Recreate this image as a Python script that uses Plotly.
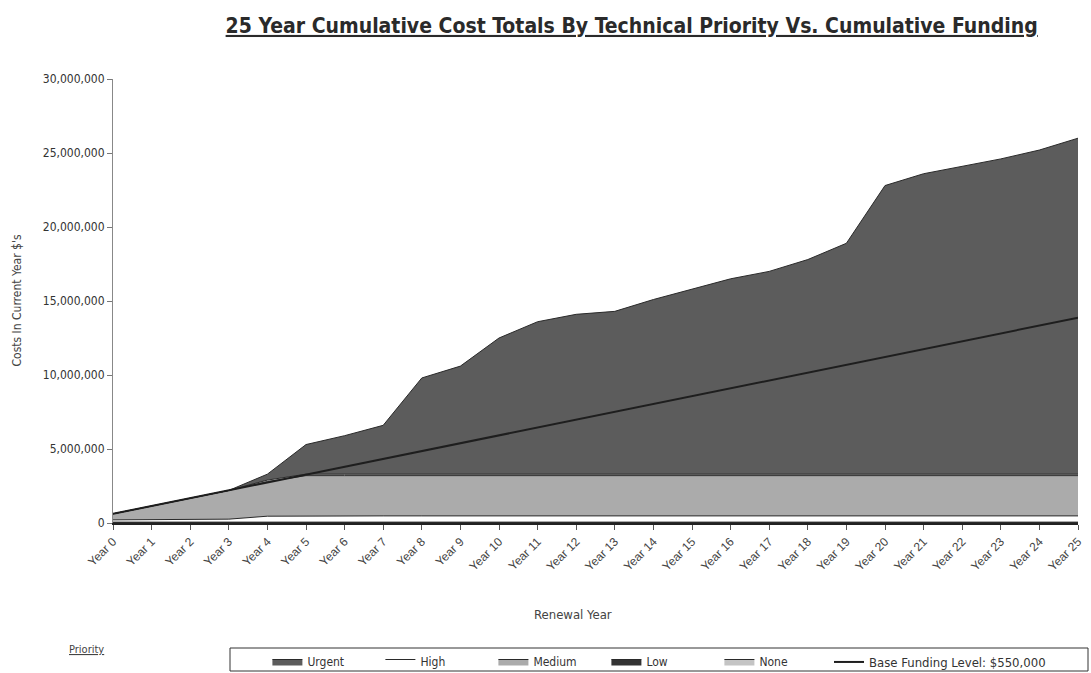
import plotly.graph_objects as go

# Renewal years shown on the category axis
years = list(range(26))
year_labels = [f"Year {y}" for y in years]

# Cumulative costs by technical priority (current-year $)
low = [60000] * 26
high = [150000, 150000, 150000, 200000, 400000] + [420000] * 21
medium = [410000, 940000, 1470000, 1940000, 2340000] + [2720000] * 21
none_ = [0, 0, 0, 0, 100000] + [100000] * 21
urgent = [0, 0, 0, 0, 400000, 2000000, 2600000, 3300000, 6500000, 7300000,
          9200000, 10300000, 10800000, 11000000, 11800000, 12500000, 13200000,
          13700000, 14500000, 15600000, 19500000, 20300000, 20800000,
          21300000, 21900000, 22700000]

# Cumulative base funding
funding = [620000, 1150000, 1680000, 2210000, 2740000, 3270000, 3800000,
           4330000, 4860000, 5390000, 5920000, 6450000, 6980000, 7510000,
           8040000, 8570000, 9100000, 9630000, 10160000, 10690000, 11220000,
           11750000, 12280000, 12810000, 13340000, 13870000]

y_ticks = [0, 5000000, 10000000, 15000000, 20000000, 25000000, 30000000]
y_tick_text = ["0", "5,000,000", "10,000,000", "15,000,000",
               "20,000,000", "25,000,000", "30,000,000"]

NARROW = "Liberation Sans Narrow, Arial Narrow, DejaVu Sans Condensed, sans-serif"
EDGE = "#2a2a2a"

fig = go.Figure()

# stacked areas, bottom to top
layers = [
    ("Low", low, "#333333", 4),
    ("High", high, "#ffffff", 2),
    ("Medium", medium, "#ababab", 3),
    ("None", none_, "#c4c4c4", 5),
    ("Urgent", urgent, "#5c5c5c", 1),
]
for name, vals, color, rank in layers:
    fig.add_trace(go.Scatter(
        x=years, y=vals, name=name, mode="lines",
        stackgroup="cost", fillcolor=color,
        line=dict(color=EDGE, width=1),
        legendrank=rank, legend="legend",
    ))

fig.add_trace(go.Scatter(
    x=years, y=funding, name="Base Funding Level: $550,000", mode="lines",
    line=dict(color="#1e1e1e", width=2), legend="legend2",
))

legend_y = 1 - 647 / 673
legend_font = dict(family=NARROW, size=12, color="#333333")

fig.update_layout(
    width=1091, height=673,
    margin=dict(l=113, r=13, t=79, b=150),
    paper_bgcolor="white", plot_bgcolor="white",
    font=dict(family=NARROW, color="#333333", size=12),
    title=dict(
        text="<u><b>25 Year Cumulative Cost Totals By Technical Priority Vs. Cumulative Funding</b></u>",
        x=0.579, xanchor="center", y=0.962, yanchor="middle",
        font=dict(family=NARROW, size=21, color="#2a2a2a"),
    ),
    showlegend=True,
    legend=dict(
        orientation="h", x=0.16, xanchor="left",
        yref="container", y=legend_y, yanchor="top",
        borderwidth=0, bgcolor="rgba(0,0,0,0)", traceorder="normal",
        font=legend_font, entrywidth=68, entrywidthmode="pixels",
        itemwidth=30, tracegroupgap=0,
    ),
    legend2=dict(
        orientation="h", x=(829 - 113) / 965, xanchor="left",
        yref="container", y=legend_y, yanchor="top",
        borderwidth=0, bgcolor="rgba(0,0,0,0)",
        font=dict(family=NARROW, size=13, color="#333333"),
        itemwidth=30,
    ),
    xaxis=dict(
        range=[0, 25], tickvals=years, ticktext=year_labels, tickangle=-45,
        showgrid=False, zeroline=False, showline=True, automargin=False,
        linecolor="#222222", linewidth=2,
        ticks="outside", ticklen=5, tickcolor="#555555",
        tickfont=dict(family="Liberation Sans, Arial, sans-serif", size=12, color="#444444"),
    ),
    yaxis=dict(
        range=[0, 30000000], tickvals=y_ticks, ticktext=y_tick_text,
        showgrid=False, zeroline=False, showline=True, automargin=False,
        linecolor="#888888", linewidth=1,
        ticks="outside", ticklen=5, tickcolor="#777777",
        tickfont=dict(family=NARROW, size=12, color="#333333"),
    ),
    shapes=[
        # frame around the legend row
        dict(type="rect", xref="paper", yref="paper",
             x0=(230 - 113) / 965, x1=(1088 - 113) / 965,
             y0=-(648 - 523) / 444, y1=-(671 - 523) / 444,
             line=dict(color="#333333", width=1), fillcolor="rgba(0,0,0,0)",
             layer="below"),
    ],
    annotations=[
        dict(text="Costs In Current Year $'s", xref="paper", yref="paper",
             x=-0.1, y=0.5, xanchor="center", yanchor="middle", textangle=-90,
             showarrow=False, font=dict(family=NARROW, size=12, color="#444444")),
        dict(text="Renewal Year", xref="paper", yref="paper",
             x=0.477, y=-0.205, xanchor="center", yanchor="middle",
             showarrow=False, font=dict(family=NARROW, size=13, color="#444444")),
        dict(text="<u>Priority</u>", xref="paper", yref="paper",
             x=-0.027, y=-0.284, xanchor="center", yanchor="middle",
             showarrow=False, font=dict(family=NARROW, size=11, color="#444444")),
    ],
)

fig.write_html("out.html")
